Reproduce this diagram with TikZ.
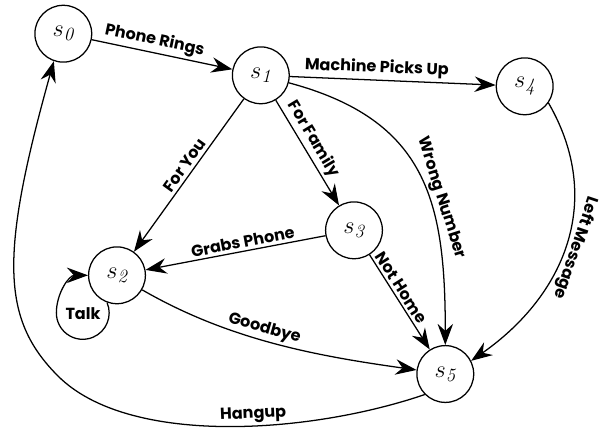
\documentclass[tikz,border=0pt]{standalone}
\usepackage{fontspec}
\setsansfont{Poppins}
\usetikzlibrary{arrows.meta}
\begin{document}
\begin{tikzpicture}[x=0.025cm, y=0.025cm]
\tikzstyle{every node}+=[inner sep=0pt]
\tikzstyle{state}=[draw=black, line width=0.9pt, circle, minimum size=1.42cm, font=\fontsize{19}{19}\selectfont]
\tikzstyle{lbl}=[font=\sffamily\bfseries\fontsize{11.4}{11.4}\selectfont, sloped, inner sep=2pt]
\tikzstyle{trans}=[draw=black, line width=0.9pt, -{Stealth[length=15pt,width=11pt,inset=5pt]}]
\useasboundingbox (0,0) rectangle (600,-430);
\node [state] (s0) at (63.3,-33.7) {$s_{\mathit{0}}$};
\node [state] (s1) at (260.8,-75.3) {$s_{\mathit{1}}$};
\node [state] (s2) at (117,-275.3) {$s_{\mathit{2}}$};
\node [state] (s3) at (354,-230.3) {$s_{\mathit{3}}$};
\node [state] (s4) at (524.7,-86.3) {$s_{\mathit{4}}$};
\node [state] (s5) at (445.3,-374) {$s_{\mathit{5}}$};
\draw [trans] (s0) -- node [lbl, above, pos=0.43] {Phone Rings} (s1);
\draw [trans] (s1) -- node [lbl, above, pos=0.42] {Machine Picks Up} (s4);
\draw [trans] (s1) -- node [lbl, above, pos=0.47] {For You} (s2);
\draw [trans] (s1) -- node [lbl, above, pos=0.43] {For Family} (s3);
\draw [trans] (s3) -- node [lbl, above, pos=0.45] {Grabs Phone} (s2);
\draw [trans] (s3) -- node [lbl, above, pos=0.4] {Not Home} (s5);
\draw [trans] (s1) to [out=-15, in=90, looseness=1.2] node [lbl, above, pos=0.6] {Wrong Number} (s5);
\draw [trans] (s4.-35) to [out=-60, in=35, looseness=1.08] node [lbl, above, allow upside down, inner sep=0.8pt, pos=0.5] {Left Message} (s5.27);
\draw [trans] (s2) to [out=-30, in=172, looseness=0.9] node [lbl, above, pos=0.45] {Goodbye} (s5);
\draw [trans] (s2.250) arc [start angle=23, end angle=-180, radius=26.4] to [out=90, in=180] (s2.180);
\node [lbl, sloped=false] (talk) at (83,-314) {Talk};
\coordinate (corner) at (58,-376);
\draw [trans] (s5.225) .. controls (309.5,-433.9) and (128.7,-446.7) .. (corner) node [lbl, above, pos=0.43] {Hangup}
  .. controls (1.4,-319.4) and (-0.6,-256) .. (s0.251);
\end{tikzpicture}
\end{document}
